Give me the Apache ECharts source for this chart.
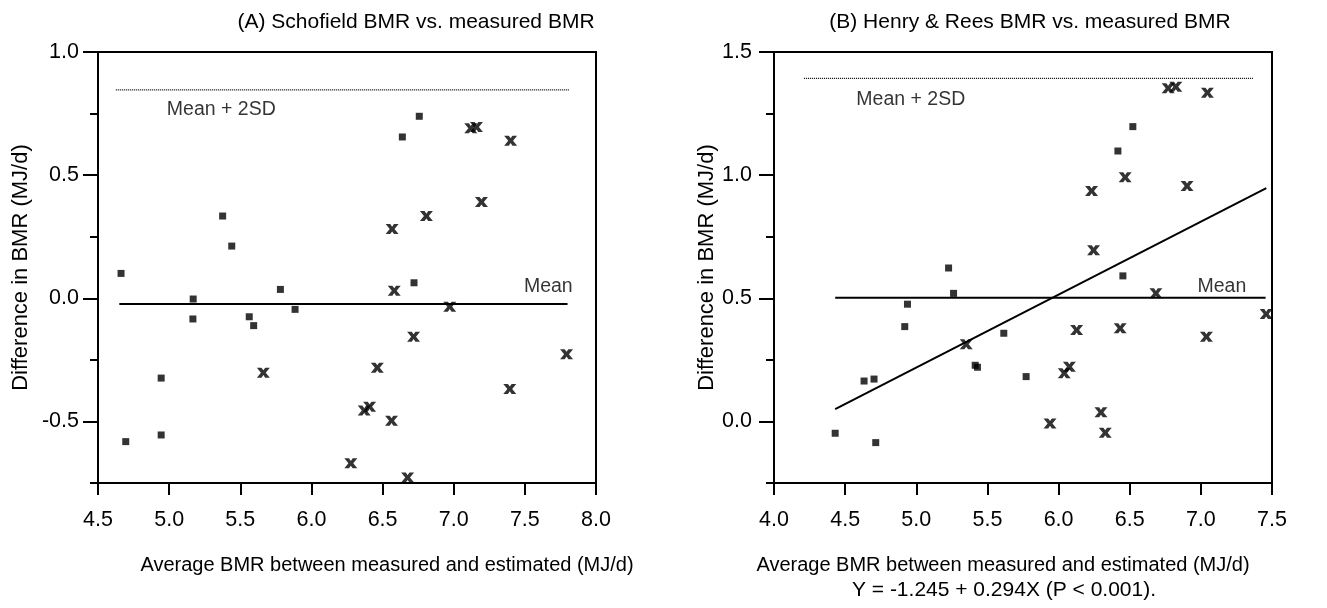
<!DOCTYPE html>
<html>
<head>
<meta charset="utf-8">
<script src="https://cdn.jsdelivr.net/npm/echarts@6/dist/echarts.min.js"></script>
<style>
html,body{margin:0;padding:0;background:#fff;}
#chart{width:1327px;height:608px;}
</style>
</head>
<body>
<div id="chart"></div>
<script>
// ---------- Data ----------
const titleA = '(A) Schofield BMR vs. measured BMR';
const titleB = '(B) Henry & Rees BMR vs. measured BMR';
const xNameA = 'Average BMR between measured and estimated (MJ/d)';
const xNameB = 'Average BMR between measured and estimated (MJ/d)';
const regText = 'Y = -1.245 + 0.294X (P < 0.001).';
const yName = 'Difference in BMR (MJ/d)';

const majorTicksA = [-0.5, 0.0, 0.5, 1.0];
const majorTicksB = [0.0, 0.5, 1.0, 1.5];

const squaresA = [
  [4.662, 0.101], [5.169, -0.003], [5.167, -0.084], [4.944, -0.324], [4.944, -0.555],
  [4.695, -0.582], [5.376, 0.334], [5.44, 0.212], [5.563, -0.075], [5.594, -0.111],
  [5.782, 0.036], [5.885, -0.045], [6.639, 0.655], [6.758, 0.739], [6.721, 0.063]
];
const crossesA = [
  [5.662, -0.302], [6.371, -0.456], [6.409, -0.440], [6.463, -0.282], [6.563, -0.497],
  [6.277, -0.670], [6.676, -0.728], [6.582, 0.031], [6.718, -0.156], [6.972, -0.034],
  [7.793, -0.227], [7.394, -0.368], [6.567, 0.281], [6.808, 0.334], [7.195, 0.391],
  [7.12, 0.690], [7.16, 0.695], [7.40, 0.640]
];
const meanA = [[4.65, -0.023], [7.80, -0.023]];
const sd2A = [[4.625, 0.846], [7.81, 0.846]];
const labelsA = [
  {name: 'Mean + 2SD', value: [4.98, 0.765]},
  {name: 'Mean', value: [7.49, 0.046]}
];

const squaresB = [
  [4.43, -0.048], [4.633, 0.164], [4.703, 0.172], [4.715, -0.086], [4.919, 0.385],
  [4.938, 0.476], [5.227, 0.623], [5.262, 0.520], [5.414, 0.228], [5.43, 0.220],
  [5.615, 0.358], [5.772, 0.182], [6.417, 1.098], [6.522, 1.197], [6.452, 0.591]
];
const crossesB = [
  [5.351, 0.313], [5.94, -0.008], [6.04, 0.196], [6.076, 0.222], [6.127, 0.371],
  [6.232, 0.936], [6.246, 0.695], [6.298, 0.037], [6.328, -0.046], [6.433, 0.378],
  [6.468, 0.991], [6.684, 0.520], [6.77, 1.353], [6.824, 1.359], [6.903, 0.956],
  [7.039, 0.344], [7.046, 1.335], [7.459, 0.436]
];
const meanB = [[4.43, 0.502], [7.455, 0.502]];
const sd2B = [[4.21, 1.393], [7.37, 1.393]];
const regB = [[4.43, 0.050], [7.46, 0.947]];
const labelsB = [
  {name: 'Mean + 2SD', value: [4.575, 1.308]},
  {name: 'Mean', value: [6.973, 0.547]}
];

// ---------- Styles ----------
const FONT = '"Liberation Sans", Arial, Helvetica, sans-serif';
const FS_TICK = 21.5;
const FS_NOTE = 19.5;
const FS_YNAME = 22;
const crossPath = 'path://M0,0 L5,0 L7,2.6 L9,0 L14,0 L9.6,5 L14,10 L9,10 L7,7.4 L5,10 L0,10 L4.4,5 Z';

function xAxisCfg(grid, min, max) {
  return {
    type: 'value', gridIndex: grid, min: min, max: max, interval: 0.5,
    axisLine: {show: true, onZero: false, lineStyle: {color: '#000', width: 2}},
    axisTick: {show: true, inside: false, length: 12, lineStyle: {color: '#000', width: 2}},
    axisLabel: {fontFamily: FONT, fontSize: FS_TICK, color: '#000', margin: 26,
      formatter: v => v.toFixed(1)},
    splitLine: {show: false}
  };
}
function yAxisMain(grid, min, max, margin, gap) {
  return {
    type: 'value', gridIndex: grid, min: min, max: max, interval: 0.25,
    name: yName, nameLocation: 'middle', nameGap: gap, nameRotate: 90,
    nameTextStyle: {fontFamily: FONT, fontSize: FS_YNAME, color: '#000'},
    axisLine: {show: true, onZero: false, lineStyle: {color: '#000', width: 2}},
    axisTick: {show: true, inside: false, length: 8, lineStyle: {color: '#000', width: 2}},
    axisLabel: {fontFamily: FONT, fontSize: FS_TICK, color: '#000', margin: margin,
      formatter: v => (Math.abs(v * 2 - Math.round(v * 2)) < 1e-6 ? v.toFixed(1) : '')},
    splitLine: {show: false}
  };
}
function yAxisMajor(grid, min, max, ticks) {
  return {
    type: 'value', gridIndex: grid, min: min, max: max, position: 'left',
    axisLine: {show: false},
    axisTick: {show: true, inside: false, length: 15, customValues: ticks,
      lineStyle: {color: '#000', width: 2}},
    axisLabel: {show: false},
    splitLine: {show: false}
  };
}
function lineSeries(xi, yi, data, type, width) {
  return {
    type: 'line', xAxisIndex: xi, yAxisIndex: yi, data: data,
    symbol: 'none', silent: true, animation: false,
    lineStyle: {color: '#000', width: width, type: type}
  };
}
function scatter(xi, yi, data, symbol, size) {
  return {
    type: 'scatter', xAxisIndex: xi, yAxisIndex: yi, data: data,
    symbol: symbol, symbolSize: size, animation: false,
    itemStyle: {color: '#000'}
  };
}
function labelSeries(xi, yi, data) {
  return {
    type: 'scatter', xAxisIndex: xi, yAxisIndex: yi, data: data,
    symbolSize: 1, itemStyle: {color: 'rgba(0,0,0,0)'}, animation: false, silent: true,
    label: {show: true, position: 'right', distance: 0, formatter: p => p.name,
      fontFamily: FONT, fontSize: FS_NOTE, color: '#000'}
  };
}
function textBlock(text, cx, top, size) {
  return {text: text, left: cx, top: top, textAlign: 'center', padding: 0,
    textStyle: {fontFamily: FONT, fontSize: size, fontWeight: 'normal', color: '#000', lineHeight: 26}};
}

const chart = echarts.init(document.getElementById('chart'), null, {renderer: 'canvas'});
chart.setOption({
  backgroundColor: '#fff',
  animation: false,
  title: [
    textBlock(titleA, 416, 9, 21),
    textBlock(titleB, 1030, 9, 21),
    textBlock(xNameA, 387, 552, 20),
    textBlock(xNameB, 1003, 552, 20),
    textBlock(regText, 1004, 577, 21)
  ],
  grid: [
    {left: 98, top: 52, width: 498, height: 431, show: true, borderColor: '#000', borderWidth: 2, containLabel: false},
    {left: 774, top: 52, width: 498, height: 431, show: true, borderColor: '#000', borderWidth: 2, containLabel: false}
  ],
  xAxis: [
    xAxisCfg(0, 4.5, 8.0),
    xAxisCfg(1, 4.0, 7.5)
  ],
  yAxis: [
    yAxisMain(0, -0.75, 1.0, 19, 66),
    yAxisMajor(0, -0.75, 1.0, majorTicksA),
    yAxisMain(1, -0.25, 1.5, 22, 50),
    yAxisMajor(1, -0.25, 1.5, majorTicksB)
  ],
  series: [
    lineSeries(0, 0, sd2A, [1, 1], 1.2),
    lineSeries(0, 0, meanA, 'solid', 2),
    scatter(0, 0, squaresA, 'rect', 7),
    scatter(0, 0, crossesA, crossPath, [13, 10]),
    labelSeries(0, 0, labelsA),
    lineSeries(1, 2, sd2B, [1, 1], 1.2),
    lineSeries(1, 2, meanB, 'solid', 2),
    lineSeries(1, 2, regB, 'solid', 2),
    scatter(1, 2, squaresB, 'rect', 7),
    scatter(1, 2, crossesB, crossPath, [13, 10]),
    labelSeries(1, 2, labelsB)
  ]
});
</script>
</body>
</html>
